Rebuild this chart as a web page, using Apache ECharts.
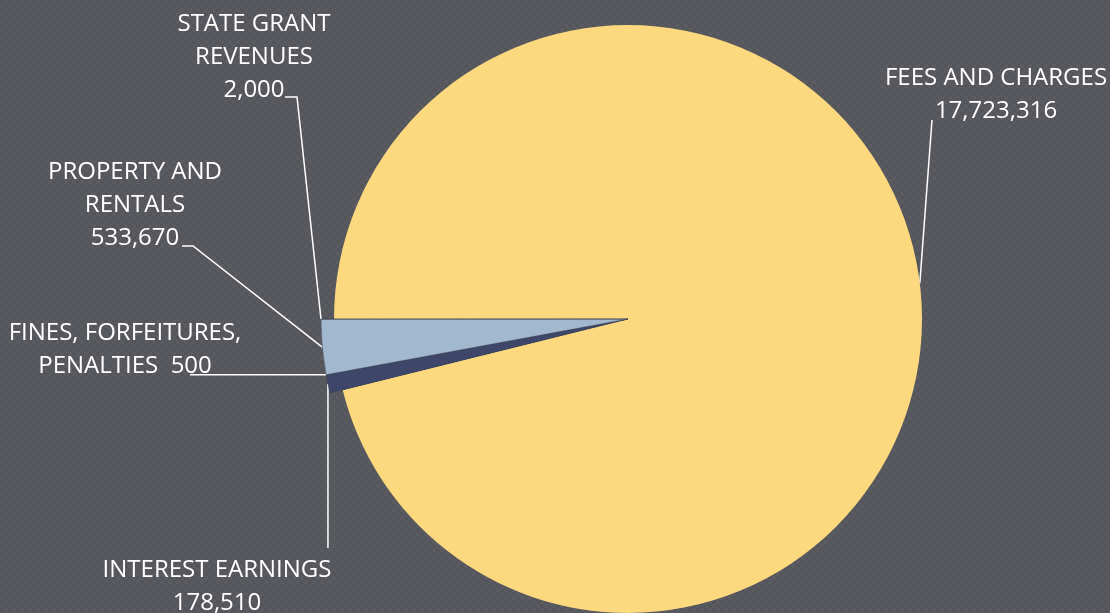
<!DOCTYPE html>
<html>
<head>
<meta charset="utf-8">
<title>Revenue by Source</title>
<script src="https://cdn.jsdelivr.net/npm/echarts@6/dist/echarts.min.js"></script>
<style>
  html, body { margin: 0; padding: 0; }
  #chart {
    width: 1110px;
    height: 613px;
    background: repeating-conic-gradient(#5a5b60 0 25%, #55565b 0 50%) 0 0 / 8px 8px;
  }
</style>
</head>
<body>
<div id="chart"></div>
<script>
// Revenue sources (category labels keep their printed line breaks)
const categories = [
  'FEES AND CHARGES',
  'INTEREST EARNINGS',
  'FINES, FORFEITURES,\nPENALTIES',
  'PROPERTY AND\nRENTALS',
  'STATE GRANT\nREVENUES'
];
const revenues = [17723316, 178510, 500, 533670, 2000];

// Slice colours
const sliceColors = ['#FCD97E', '#3E4769', '#3E4769', '#A1B8CF', '#A1B8CF'];

// Text placed after the name: the fines label keeps its amount on the same line
const valueSeparators = ['\n', '\n', '  ', '\n', '\n'];

// Pie geometry (px)
const CENTER = [628, 319];
const R_MAIN = 294;
const R_SMALL = 307;

// Label block centres and leader-line bends (px)
const labelCenters = [
  [996, 95],
  [217, 587],
  [125, 350],
  [135, 205],
  [254, 57]
];
const leaderBends = [
  [[932, 120]],
  [['edge', 548]],
  [[190, 'edge']],
  [[193, 246], [182, 246]],
  [[297, 97], [285, 97]]
];

const fmt = v => v.toLocaleString('en-US');

const pieData = categories.map((name, i) => ({
  name: name,
  value: revenues[i],
  itemStyle: { color: sliceColors[i] }
}));

// Second layer: the small slices drawn slightly larger than the main disc
const outerData = categories.map((name, i) => ({
  name: name,
  value: revenues[i],
  itemStyle: i === 0
    ? { color: 'rgba(0,0,0,0)', borderWidth: 0 }
    : { color: sliceColors[i], borderColor: 'rgba(60,64,80,0.55)', borderWidth: 0.8 }
}));

const chart = echarts.init(document.getElementById('chart'), null, { renderer: 'canvas' });

chart.setOption({
  backgroundColor: 'transparent',
  animation: false,
  series: [
    {
      type: 'pie',
      center: CENTER,
      radius: R_MAIN,
      startAngle: 180,
      clockwise: true,
      avoidLabelOverlap: false,
      data: pieData,
      itemStyle: { borderWidth: 0 },
      label: {
        show: true,
        position: 'outside',
        color: '#FFFFFF',
        fontFamily: '"Open Sans", "Noto Sans", sans-serif',
        fontSize: 24,
        lineHeight: 33,
        formatter: p => p.name + valueSeparators[p.dataIndex] + fmt(p.value)
      },
      labelLine: {
        show: true,
        lineStyle: { color: '#FFFFFF', width: 1.5 }
      },
      labelLayout: function (params) {
        const i = params.dataIndex;
        const pts = params.labelLinePoints || [[CENTER[0] + R_MAIN, CENTER[1]]];
        let edge = pts[0];
        if (i !== 0) {
          const k = R_SMALL / R_MAIN;
          edge = [CENTER[0] + (edge[0] - CENTER[0]) * k, CENTER[1] + (edge[1] - CENTER[1]) * k];
        }
        const line = [edge];
        leaderBends[i].forEach(b => {
          line.push([b[0] === 'edge' ? edge[0] : b[0], b[1] === 'edge' ? edge[1] : b[1]]);
        });
        while (line.length < 3) line.push(line[line.length - 1]);
        return {
          x: labelCenters[i][0],
          y: labelCenters[i][1],
          align: 'center',
          verticalAlign: 'middle',
          labelLinePoints: line
        };
      },
      emphasis: { disabled: true }
    },
    {
      type: 'pie',
      center: CENTER,
      radius: R_SMALL,
      startAngle: 180,
      clockwise: true,
      silent: true,
      data: outerData,
      label: { show: false },
      labelLine: { show: false },
      emphasis: { disabled: true }
    }
  ]
});
</script>
</body>
</html>
